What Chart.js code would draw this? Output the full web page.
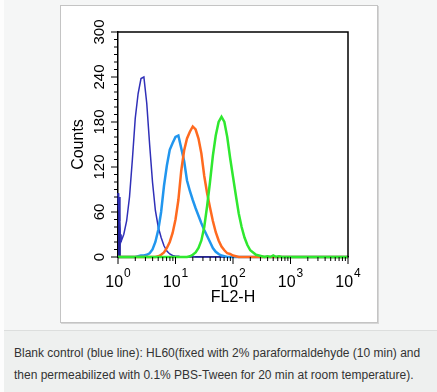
<!DOCTYPE html>
<html>
<head>
<meta charset="utf-8">
<script src="https://cdn.jsdelivr.net/npm/chart.js@4"></script>
<style>
  html, body { margin: 0; padding: 0; background: #fdfdfd; }
  body { width: 437px; height: 392px; position: relative; overflow: hidden; font-family: "Liberation Sans", Arial, sans-serif; }
  #top { position: absolute; left: 4px; top: 0; width: 433px; height: 330px; background: #f5f6f6; }
  #box { position: absolute; left: 60px; top: 5px; width: 316px; height: 316px; background: #fff; border: 1px solid #c4c4c4; box-shadow: 1px 1px 0 #d6d6d6; }
  #cap { position: absolute; left: 4px; top: 330px; width: 433px; height: 62px; background: #eef0ef; border-top: 1px solid #dcdedd; }
  #cap p { margin: 0; position: absolute; left: 10px; top: 11px; font-size: 12px; line-height: 22px; color: #333; white-space: nowrap; }
</style>
</head>
<body>
<div id="top"></div>
<div id="box"><canvas id="histChart" width="316" height="316"></canvas></div>
<div id="cap"><p>Blank control (blue line): HL60(fixed with 2% paraformaldehyde (10 min) and<br>then permeabilized with 0.1% PBS-Tween for 20 min at room temperature).</p></div>
<script>
// channel positions in decades (FL2-H = 10^d)
const channelLog = [0, 0.01, 0.02, 0.03, 0.04, 0.05, 0.10, 0.15, 0.20, 0.25,
  0.30, 0.35, 0.40, 0.45, 0.50, 0.55, 0.60, 0.65, 0.70, 0.75,
  0.80, 0.85, 0.90, 0.95, 1.00, 1.05, 1.10, 1.15, 1.20, 1.25,
  1.30, 1.35, 1.40, 1.45, 1.50, 1.55, 1.60, 1.65, 1.70, 1.75,
  1.80, 1.85, 1.90, 1.95, 2.00, 2.05, 2.10, 2.15, 2.20, 2.25,
  2.30, 2.35, 2.40, 2.45, 2.50, 2.55, 2.60, 2.65, 2.70, 2.75,
  2.80, 2.85, 2.90, 3.90, 4.00];

const navyCounts = [85, 62, 80, 48, 30, 20, 30, 48, 80, 130,
  185, 218, 238, 240, 205, 150, 100, 62, 40, 26,
  15, 8, 4, 2, 1, 1, 0, 0, 0, 0,
  1, 0, 0, 0, 0, 0, 0, 0, 0, 0,
  0, 0, 0, 0, 0, 0, 0, 0, 0, 0,
  0, 0, 0, 0, 0, 0, 0, 0, 0, 0,
  0, 0, 0, 0, 0];

const blueCounts = [0, 0, 0, 0, 0, 0, 0, 0, 0, 0,
  0, 1, 2, 2, 3, 5, 10, 20, 36, 60,
  95, 122, 143, 152, 160, 162, 145, 128, 102, 88,
  76, 65, 55, 45, 36, 28, 20, 12, 7, 4,
  2, 1, 0, 0, 0, 0, 0, 0, 0, 0,
  0, 0, 0, 0, 0, 0, 0, 0, 0, 0,
  0, 0, 0, 0, 0];

const orangeCounts = [0, 0, 0, 0, 0, 0, 0, 0, 0, 0,
  0, 0, 0, 0, 0, 0, 0, 0, 1, 3,
  6, 12, 20, 32, 50, 76, 115, 142, 158, 167,
  174, 170, 158, 138, 108, 85, 66, 48, 33, 22,
  14, 9, 5, 4, 2, 1, 0, 0, 0, 0,
  0, 0, 0, 0, 0, 0, 0, 0, 0, 0,
  0, 0, 0, 0, 0];

const greenCounts = [0, 0, 0, 0, 0, 0, 0, 0, 0, 0,
  0, 0, 0, 0, 0, 0, 0, 0, 0, 0,
  0, 0, 0, 0, 0, 0, 0, 0, 0, 1,
  3, 6, 12, 22, 40, 68, 100, 135, 162, 180,
  187, 180, 160, 132, 107, 82, 58, 40, 26, 16,
  9, 6, 3, 2, 1, 0, 1, 0, 2, 0,
  1, 0, 0, 0, 0];

// first channels of the blank control are drawn filled
const navySpikeChannels = 6;

const yTicks = [0, 60, 120, 180, 240, 300];
const yMinorStep = 10;
const xMajorTicks = [1, 10, 100, 1000, 10000];
const xMinorSteps = [2, 3, 4, 5, 6, 7, 8, 9];

const fontFamily = '"Liberation Sans", Arial, Helvetica, sans-serif';
Chart.defaults.font.family = fontFamily;

function toPoints(counts) {
  return counts.map((c, i) => ({ x: Math.pow(10, channelLog[i]), y: c }));
}

// extra tick marks, frame and 10^n labels
const axisDecor = {
  id: 'axisDecor',
  afterDraw(chart) {
    const { ctx, chartArea: a, scales: { x, y } } = chart;
    ctx.save();
    ctx.strokeStyle = '#000';
    ctx.lineWidth = 1.5;
    ctx.beginPath();
    ctx.moveTo(a.left, a.top);
    ctx.lineTo(a.right, a.top);
    ctx.lineTo(a.right, a.bottom);
    ctx.stroke();

    ctx.lineWidth = 1;
    ctx.beginPath();
    xMajorTicks.forEach((v, i) => {
      const px = x.getPixelForValue(v);
      ctx.moveTo(px, a.bottom);
      ctx.lineTo(px, a.bottom + 7);
      if (i < xMajorTicks.length - 1) {
        xMinorSteps.forEach(m => {
          const mx = x.getPixelForValue(v * m);
          ctx.moveTo(mx, a.bottom);
          ctx.lineTo(mx, a.bottom + 4);
        });
      }
    });
    for (let v = 0; v <= 300; v += yMinorStep) {
      const py = y.getPixelForValue(v);
      const len = yTicks.includes(v) ? 7 : 4;
      ctx.moveTo(a.left, py);
      ctx.lineTo(a.left - len, py);
    }
    ctx.stroke();

    ctx.fillStyle = '#000';
    ctx.textBaseline = 'alphabetic';
    ctx.textAlign = 'left';
    xMajorTicks.forEach(v => {
      const exp = String(Math.round(Math.log10(v)));
      ctx.font = '16px ' + fontFamily;
      const wb = ctx.measureText('10').width;
      ctx.font = '12px ' + fontFamily;
      const we = ctx.measureText(exp).width;
      const left = x.getPixelForValue(v) - (wb + we + 1) / 2;
      const base = a.bottom + 30;
      ctx.font = '16px ' + fontFamily;
      ctx.fillText('10', left, base);
      ctx.font = '12px ' + fontFamily;
      ctx.fillText(exp, left + wb + 1, base - 10);
    });
    ctx.restore();
  }
};

new Chart(document.getElementById('histChart'), {
  type: 'line',
  data: {
    datasets: [
      { label: 'green', data: toPoints(greenCounts), borderColor: '#2fe82f', borderWidth: 2.5 },
      { label: 'orange', data: toPoints(orangeCounts), borderColor: '#ff6a1f', borderWidth: 2.5 },
      { label: 'blue', data: toPoints(blueCounts), borderColor: '#2196ee', borderWidth: 2.5 },
      { label: 'navy', data: toPoints(navyCounts), borderColor: '#3030b8', borderWidth: 1.5 },
      { label: 'navy spike', data: toPoints(navyCounts).slice(0, navySpikeChannels),
        borderColor: '#22229a', borderWidth: 1, fill: 'origin', backgroundColor: '#22229a' }
    ]
  },
  options: {
    responsive: false,
    animation: false,
    events: [],
    datasets: {
      line: { pointRadius: 0, tension: 0, fill: false, clip: false }
    },
    layout: { padding: { left: 0, top: 26, right: 29, bottom: 0 } },
    plugins: { legend: { display: false }, tooltip: { enabled: false } },
    scales: {
      x: {
        type: 'logarithmic',
        min: 1,
        max: 10000,
        afterFit: s => { s.height = 65; },
        grid: { display: false, drawTicks: false },
        border: { color: '#000', width: 1.5 },
        ticks: { display: false },
        title: { display: true, text: 'FL2-H', color: '#000', font: { size: 16 }, padding: { top: 0, bottom: 15 } }
      },
      y: {
        min: 0,
        max: 300,
        afterBuildTicks: s => { s.ticks = yTicks.map(v => ({ value: v })); },
        afterFit: s => { s.width = 57; },
        grid: { display: false, drawTicks: false },
        border: { color: '#000', width: 1.5 },
        ticks: { minRotation: 90, maxRotation: 90, crossAlign: 'center', padding: 6, color: '#000', font: { size: 15 } },
        title: { display: true, text: 'Counts', color: '#000', font: { size: 16 }, padding: { top: 8, bottom: 0 } }
      }
    }
  },
  plugins: [axisDecor]
});
</script>
</body>
</html>
